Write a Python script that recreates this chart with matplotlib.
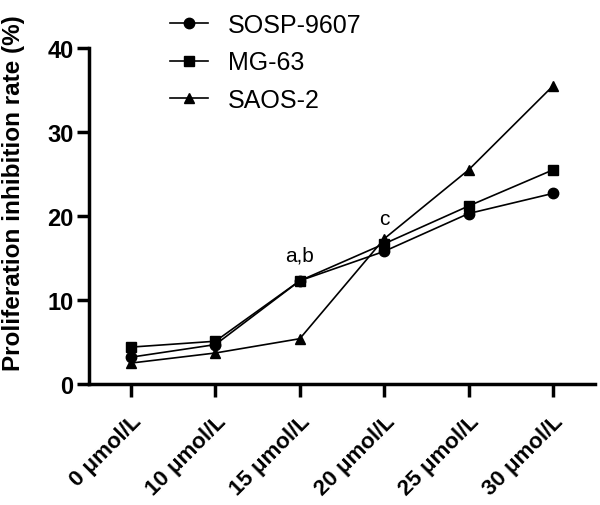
import matplotlib
matplotlib.use("Agg")
import matplotlib.pyplot as plt

plt.rcParams['font.family'] = ['Liberation Sans', 'DejaVu Sans']

categories = ["0 μmol/L", "10 μmol/L", "15 μmol/L", "20 μmol/L", "25 μmol/L", "30 μmol/L"]
sosp_9607 = [3.2, 4.7, 12.3, 15.8, 20.3, 22.7]
mg_63 = [4.4, 5.1, 12.3, 16.7, 21.2, 25.5]
saos_2 = [2.5, 3.7, 5.4, 17.3, 25.5, 35.5]
annotations = [("a,b", 2, 14.7), ("c", 3, 19.1)]

fig = plt.figure(figsize=(6.0, 5.06), dpi=100)
ax = fig.add_axes([0.148, 0.239, 0.844, 0.664])

x = list(range(len(categories)))
ax.plot(x, sosp_9607, '-o', color='black', lw=1.2, ms=7.5, label='SOSP-9607')
ax.plot(x, mg_63, '-s', color='black', lw=1.2, ms=7.5, label='MG-63')
ax.plot(x, saos_2, '-^', color='black', lw=1.2, ms=7.5, label='SAOS-2')

for txt, xi, yi in annotations:
    ax.text(xi, yi, txt, ha='center', va='baseline', fontsize=15)

ax.set_xlim(-0.5, 5.5)
ax.set_ylim(0, 40)
ax.set_yticks([0, 10, 20, 30, 40])
ax.set_xticks(x)
ax.set_xticklabels(categories, rotation=45, ha='right', rotation_mode='anchor',
                   fontsize=16, fontweight='bold')
for lab in ax.get_yticklabels():
    lab.set_fontsize(17)
    lab.set_fontweight('bold')
ax.set_ylabel('Proliferation inhibition rate (%)', fontsize=17.5, fontweight='bold')
ax.yaxis.set_label_coords(-0.126, 0.57)

for s in ['top', 'right']:
    ax.spines[s].set_visible(False)
for s in ['left', 'bottom']:
    ax.spines[s].set_linewidth(2.5)
ax.tick_params(axis='both', width=2.5, length=9, direction='out')
ax.tick_params(axis='x', pad=10)
ax.tick_params(axis='y', pad=2)

fig.legend(loc='upper left', bbox_to_anchor=(0.263, 0.998), frameon=False,
           fontsize=18, handlelength=1.5, handletextpad=0.8, labelspacing=0.55,
           borderpad=0)

fig.savefig('out.png', dpi=100)
